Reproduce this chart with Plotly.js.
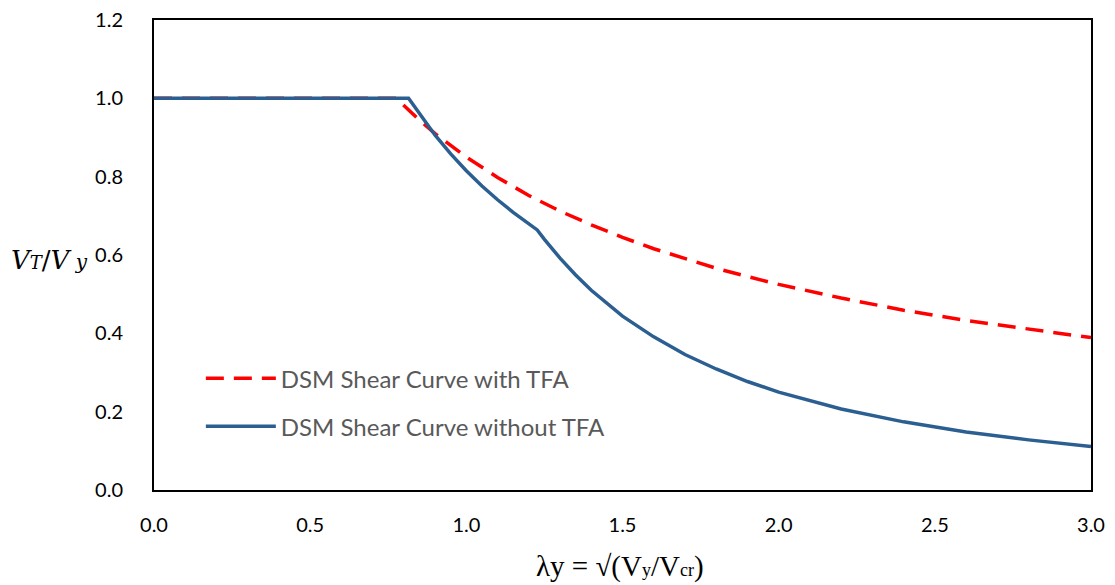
<!DOCTYPE html>
<html>
<head>
<meta charset="utf-8">
<script src="https://cdn.plot.ly/plotly-3.0.1.min.js"></script>
<style>html,body{margin:0;padding:0;background:#fff;}#chart{width:1115px;height:585px;}</style>
</head>
<body>
<div id="chart"></div>
<script>
// DSM shear curve with TFA
const lambdaWith = [0.0, 0.776, 0.85, 0.9, 1.0, 1.1, 1.2, 1.3, 1.4, 1.5, 1.6, 1.7, 1.8, 1.9, 2.0, 2.2, 2.4, 2.6, 2.8, 3.0];
const vWith      = [1.0, 1.0, 0.944, 0.910, 0.850, 0.798, 0.752, 0.712, 0.677, 0.645, 0.616, 0.590, 0.566, 0.545, 0.525, 0.490, 0.459, 0.433, 0.410, 0.389];

// DSM shear curve without TFA
const lambdaWithout = [0.0, 0.815, 0.9, 0.95, 1.0, 1.05, 1.1, 1.15, 1.227, 1.25, 1.3, 1.35, 1.4, 1.45, 1.5, 1.6, 1.7, 1.8, 1.9, 2.0, 2.2, 2.4, 2.6, 2.8, 3.0];
const vWithout      = [1.0, 1.0, 0.906, 0.858, 0.815, 0.776, 0.741, 0.709, 0.664, 0.640, 0.592, 0.549, 0.510, 0.476, 0.444, 0.391, 0.346, 0.309, 0.277, 0.250, 0.207, 0.174, 0.148, 0.128, 0.111];

const xTicks = [0, 0.5, 1.0, 1.5, 2.0, 2.5, 3.0];
const yTicks = [0, 0.2, 0.4, 0.6, 0.8, 1.0, 1.2];

const traces = [
  {
    x: lambdaWith, y: vWith, mode: 'lines', name: 'DSM Shear Curve with TFA',
    line: {color: '#FF0000', width: 3.5, dash: '18px,10px'}, legendgroup: 'a'
  },
  {
    x: lambdaWithout, y: vWithout, mode: 'lines', name: 'DSM Shear Curve without TFA',
    line: {color: '#2C5F91', width: 3.5}, legendgroup: 'b'
  }
];

const tickFont = {family: 'Lato, "Noto Sans", sans-serif', size: 20, color: '#000'};

const layout = {
  width: 1115, height: 585,
  margin: {l: 154, r: 24, t: 20, b: 95},
  paper_bgcolor: '#fff', plot_bgcolor: '#fff',
  showlegend: true,
  legend: {
    x: 0.05, y: 0.285, xanchor: 'left', yanchor: 'top',
    font: {family: 'Lato, "Noto Sans", sans-serif', size: 24, color: '#595959'},
    bgcolor: 'rgba(0,0,0,0)', itemwidth: 70, traceorder: 'grouped', tracegroupgap: 14
  },
  xaxis: {
    range: [0, 3], tickvals: xTicks, tickformat: '.1f', showgrid: false, zeroline: false,
    showline: true, linecolor: '#000', linewidth: 2, mirror: true, ticks: '',
    tickfont: tickFont, ticklabelstandoff: 16
  },
  yaxis: {
    range: [0, 1.2], tickvals: yTicks, tickformat: '.1f', showgrid: false, zeroline: false,
    showline: true, linecolor: '#000', linewidth: 2, mirror: true, ticks: '',
    tickfont: tickFont, ticklabelstandoff: 25
  },
  annotations: [
    {
      xref: 'paper', yref: 'paper', x: -0.155, y: 0.49, xanchor: 'left', yanchor: 'middle',
      text: '<i>V</i><span style="font-size:18px"><i>T</i></span>/<i>V</i><span style="font-size:20px"><i> y</i></span>',
      showarrow: false, font: {family: '"DejaVu Serif", "Liberation Serif", serif', size: 26, color: '#000'}
    },
    {
      xref: 'paper', yref: 'paper', x: 0.497, y: -0.162, xanchor: 'center', yanchor: 'middle',
      text: 'λy = √(V<span style="font-size:18px">y</span>/V<span style="font-size:18px">cr</span>)',
      showarrow: false, font: {family: '"Liberation Serif", "Times New Roman", serif', size: 29, color: '#000'}
    }
  ]
};

Plotly.newPlot('chart', traces, layout, {displayModeBar: false, staticPlot: true});
</script>
</body>
</html>
